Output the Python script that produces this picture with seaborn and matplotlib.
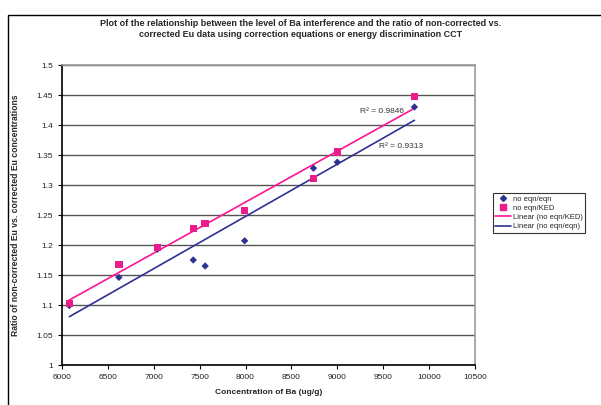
import numpy as np
import pandas as pd
import matplotlib
matplotlib.use("Agg")
import matplotlib.pyplot as plt
import seaborn as sns
from matplotlib.lines import Line2D
from matplotlib.patches import Rectangle

# Data
ba_eqn = [6080, 6620, 7040, 7430, 7560, 7990, 8740, 9000, 9840]
ratio_eqn = [1.099, 1.146, 1.193, 1.175, 1.165, 1.207, 1.328, 1.338, 1.430]
ba_ked = [6080, 6620, 7040, 7430, 7560, 7990, 8740, 9000, 9840]
ratio_ked = [1.103, 1.167, 1.196, 1.227, 1.236, 1.257, 1.311, 1.355, 1.447]

pink = "#ec1c8c"
navy = "#2e3192"

sns.set_style("white")
plt.rcParams['font.family'] = ['Liberation Sans', 'DejaVu Sans']

fig = plt.figure(figsize=(6.01, 4.05), dpi=100)
ax = fig.add_axes([62/601, 40/405, 413/601, 300/405])

# outer chart frame
fig.patches.append(Rectangle((8/601, -0.01), 0.999, 1 - 15/405 + 0.01, transform=fig.transFigure,
                             fill=False, edgecolor="black", linewidth=1.0))

df_eqn = pd.DataFrame({"ba": ba_eqn, "ratio": ratio_eqn})
df_ked = pd.DataFrame({"ba": ba_ked, "ratio": ratio_ked})

# linear fits
def fit(df):
    m, b = np.polyfit(df["ba"], df["ratio"], 1)
    xs = np.array([df["ba"].min(), df["ba"].max()])
    return xs, m * xs + b

xk, yk = fit(df_ked)
xe, ye = fit(df_eqn)

sns.lineplot(x=xk, y=yk, color="#ff1493", linewidth=1.2, ax=ax)
sns.lineplot(x=xe, y=ye, color=navy, linewidth=1.2, ax=ax)
sns.scatterplot(data=df_eqn, x="ba", y="ratio", marker="D", s=14, color=navy, edgecolor="none", ax=ax, zorder=3)
sns.scatterplot(data=df_ked, x="ba", y="ratio", marker="s", s=28, color=pink, edgecolor="none", ax=ax, zorder=4)

ax.text(9250, 1.4205, "R² = 0.9846", fontsize=6, color="#333333")
ax.text(9450, 1.3615, "R² = 0.9313", fontsize=6, color="#333333")

ax.set_xlim(6000, 10500)
ax.set_ylim(1.0, 1.5)
ax.set_xticks(np.arange(6000, 10501, 500))
ax.set_yticks(np.arange(1.0, 1.501, 0.05))
ax.set_yticklabels(["1", "1.05", "1.1", "1.15", "1.2", "1.25", "1.3", "1.35", "1.4", "1.45", "1.5"])
ax.tick_params(axis="both", labelsize=6, length=3, direction="out", color="black", colors="#222222",
               left=True, bottom=True)
ax.yaxis.grid(True, color="#555555", linewidth=1.0)
ax.xaxis.grid(False)
ax.set_axisbelow(True)
for s in ["left", "bottom"]:
    ax.spines[s].set_color("black")
    ax.spines[s].set_linewidth(1.2)
for s in ["top", "right"]:
    ax.spines[s].set_color("#9a9aa2")
    ax.spines[s].set_linewidth(1.2)

ax.set_xlabel("Concentration of Ba (ug/g)", fontsize=6, fontweight="bold", labelpad=6)
ax.set_ylabel("Ratio of non-corrected Eu vs. corrected Eu concentrations", fontsize=6.2, fontweight="bold", labelpad=12)

fig.text(0.5, 1 - 19/405,
         "Plot of the relationship between the level of Ba interference and the ratio of non-corrected vs.\n"
         "corrected Eu data using correction equations or energy discrimination CCT",
         ha="center", va="top", fontsize=6.5, fontweight="bold", linespacing=1.3)

handles = [
    Line2D([], [], marker="D", color=navy, linestyle="none", markersize=3),
    Line2D([], [], marker="s", color=pink, linestyle="none", markersize=4.5),
    Line2D([], [], color="#ff1493", linewidth=1.2),
    Line2D([], [], color=navy, linewidth=1.2),
]
labels = ["no eqn/eqn", "no eqn/KED", "Linear (no eqn/KED)", "Linear (no eqn/eqn)"]
leg = fig.legend(handles, labels, loc="upper left", bbox_to_anchor=(493/601, 1 - 193/405),
                 fontsize=5.5, frameon=True, fancybox=False, edgecolor="black", handlelength=2.0,
                 borderpad=0.3, labelspacing=0.25, handletextpad=0.3, borderaxespad=0)
leg.get_frame().set_linewidth(0.8)

fig.savefig("out.png", dpi=100)
